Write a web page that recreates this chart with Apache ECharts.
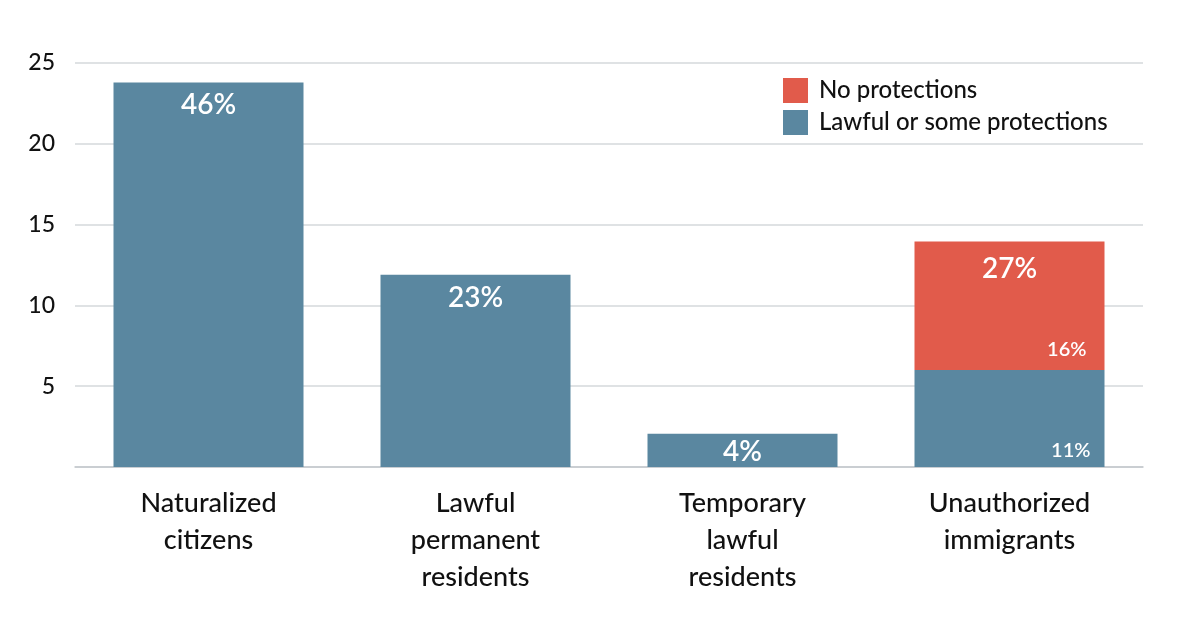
<!DOCTYPE html>
<html>
<head>
<meta charset="utf-8">
<script src="https://cdn.jsdelivr.net/npm/echarts@6/dist/echarts.min.js"></script>
<style>html,body{margin:0;padding:0;background:#fff;}#c{width:1200px;height:630px;}</style>
</head>
<body>
<div id="c"></div>
<script>
const categories = ['Naturalized\ncitizens', 'Lawful\npermanent\nresidents', 'Temporary\nlawful\nresidents', 'Unauthorized\nimmigrants'];
const protectedValues = [23.8, 11.9, 2.05, 6.0];
const noProtectionValues = [null, null, null, 7.95];
const totalValues = [null, null, null, 13.95];
const protectedLabels = ['46%', '23%', '4%', '11%'];
const noProtectionLabels = ['', '', '', '16%'];
const totalLabels = ['', '', '', '27%'];
const yTicks = [0, 5, 10, 15, 20, 25];

const FONT = 'Lato, "Open Sans", sans-serif';
const BLUE = '#5a87a0';
const RED = '#e15b4b';

const chart = echarts.init(document.getElementById('c'));
chart.setOption({
  backgroundColor: '#fff',
  animation: false,
  textStyle: { fontFamily: FONT },
  grid: { left: 75, right: 57, top: 63, bottom: 163 },
  legend: {
    orient: 'vertical',
    left: 778, top: 73,
    itemWidth: 25, itemHeight: 25, itemGap: 7,
    icon: 'rect',
    data: ['No protections', 'Lawful or some protections'],
    textStyle: { fontSize: 24, color: '#111', fontFamily: FONT, fontWeight: 500, padding: [0, 0, 0, 6] }
  },
  xAxis: {
    type: 'category',
    data: categories,
    axisTick: { show: false },
    axisLine: { lineStyle: { color: '#c3c8cb', width: 1.5 } },
    axisLabel: { fontSize: 27, color: '#111', lineHeight: 37, margin: 18, fontFamily: FONT, fontWeight: 500, interval: 0 }
  },
  yAxis: {
    type: 'value',
    min: yTicks[0], max: yTicks[yTicks.length - 1], interval: 5,
    axisLine: { show: false },
    axisTick: { show: false },
    splitLine: { lineStyle: { color: '#d5d9db', width: 1.5 } },
    axisLabel: {
      fontSize: 23, color: '#111', margin: 20, fontFamily: FONT, fontWeight: 500,
      formatter: v => (v === 0 ? '' : String(v))
    }
  },
  series: [
    {
      name: 'Lawful or some protections',
      type: 'bar', stack: 'a', barWidth: 190,
      itemStyle: { color: BLUE },
      data: protectedValues.map((v, i) => ({
        value: v,
        label: i < 3
          ? { show: true, position: 'insideTop', distance: i === 2 ? 4 : 9, formatter: protectedLabels[i], color: '#fff', fontSize: 28, fontWeight: 600, fontFamily: FONT }
          : { show: true, position: 'insideBottomRight', distance: 6, offset: [-8, 0], formatter: protectedLabels[i], color: '#fff', fontSize: 20, fontWeight: 600, fontFamily: FONT }
      }))
    },
    {
      name: 'No protections',
      type: 'bar', stack: 'a', barWidth: 190,
      itemStyle: { color: RED },
      data: noProtectionValues.map((v, i) => ({
        value: v,
        label: { show: !!noProtectionLabels[i], position: 'insideBottomRight', distance: 10, offset: [-8, 0], formatter: noProtectionLabels[i], color: '#fff', fontSize: 20, fontWeight: 600, fontFamily: FONT }
      }))
    },
    {
      name: 'total',
      type: 'bar', barWidth: 190, barGap: '-100%', silent: true,
      itemStyle: { color: 'rgba(0,0,0,0)' },
      data: totalValues.map((v, i) => ({
        value: v,
        label: { show: !!totalLabels[i], position: 'insideTop', distance: 13, formatter: totalLabels[i], color: '#fff', fontSize: 28, fontWeight: 600, fontFamily: FONT }
      }))
    }
  ]
});
</script>
</body>
</html>
